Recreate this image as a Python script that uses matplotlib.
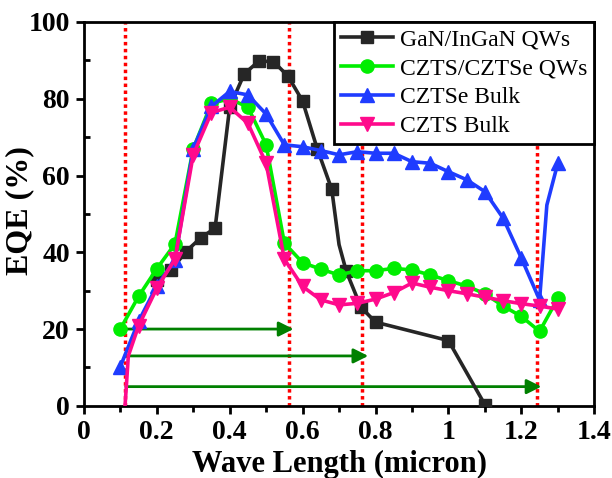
import matplotlib
matplotlib.use("Agg")
import matplotlib.pyplot as plt
from matplotlib.ticker import MultipleLocator, FuncFormatter

plt.rcParams["font.family"] = ["Liberation Serif", "DejaVu Serif"]

# ── data ─────────────────────────────────────────────────────────────────
gan_x = [0.20, 0.24, 0.28, 0.32, 0.36, 0.40, 0.44, 0.48, 0.52, 0.56, 0.60,
         0.64, 0.68, 0.70, 0.72, 0.76, 0.80, 1.00, 1.10]
gan_y = [32.8, 35.4, 40.2, 43.7, 46.3, 77.8, 86.5, 89.8, 89.7, 85.9, 79.4,
         67.0, 56.4, 42.0, 35.0, 25.7, 21.8, 17.0, 0.3]
gan_marks = [i for i in range(len(gan_x)) if i != 13]

qw_x = [0.10, 0.15, 0.20, 0.25, 0.30, 0.35, 0.40, 0.45, 0.50, 0.55, 0.60,
        0.65, 0.70, 0.75, 0.80, 0.85, 0.90, 0.95, 1.00, 1.05, 1.10, 1.15,
        1.20, 1.25, 1.30]
qw_y = [20.0, 28.5, 35.7, 42.2, 67.0, 78.8, 80.0, 77.8, 68.0, 42.4, 37.3,
        35.6, 34.1, 35.2, 35.2, 35.8, 35.4, 34.1, 32.6, 31.2, 29.2, 26.0,
        23.3, 19.4, 28.0]

se_x = [0.10, 0.15, 0.20, 0.25, 0.30, 0.35, 0.40, 0.45, 0.50, 0.55, 0.60,
        0.65, 0.70, 0.75, 0.80, 0.85, 0.90, 0.95, 1.00, 1.05, 1.10, 1.15,
        1.20, 1.25, 1.27, 1.30]
se_y = [10.2, 22.0, 31.2, 38.0, 67.0, 78.0, 81.9, 81.0, 76.0, 68.0, 67.5,
        66.5, 65.4, 66.2, 65.8, 65.8, 63.6, 63.2, 61.0, 58.9, 55.8, 48.9,
        38.5, 27.6, 52.3, 63.2]
se_marks = [i for i in range(len(se_x)) if i != 24]

s_x = [0.113, 0.122, 0.15, 0.20, 0.25, 0.30, 0.35, 0.40, 0.45, 0.50, 0.55,
       0.60, 0.65, 0.70, 0.75, 0.80, 0.85, 0.90, 0.95, 1.00, 1.05, 1.10,
       1.15, 1.20, 1.25, 1.30]
s_y = [0.0, 13.0, 20.8, 30.6, 38.2, 65.4, 76.4, 77.8, 73.6, 63.2, 38.2,
       31.1, 27.6, 26.3, 26.7, 27.8, 29.5, 32.0, 30.9, 30.0, 29.2, 28.3,
       27.4, 26.6, 26.0, 25.2]
s_marks = list(range(2, len(s_x)))

vlines_x = [0.113, 0.563, 0.763, 1.243]
arrow_start = 0.115
arrow_ends = [0.575, 0.78, 1.255]
arrow_y = [20, 13, 5]

# ── plot ────────────────────────────────────────────────────────────────
fig, ax = plt.subplots(figsize=(6.12, 4.78), dpi=100)
fig.subplots_adjust(left=0.137, right=0.971, top=0.954, bottom=0.151)

# band-edge markers
for xv in vlines_x:
    ax.axvline(xv, color="red", ls=(0, (1, 1)), lw=2.5, zorder=1)

for xe, ya in zip(arrow_ends, arrow_y):
    ax.annotate("", xy=(xe, ya), xytext=(arrow_start, ya),
                arrowprops=dict(arrowstyle="-|>", color="green", lw=2,
                                mutation_scale=22, shrinkA=0, shrinkB=0),
                zorder=2)

lw = 2.6
ax.plot(gan_x, gan_y, color="#262626", lw=lw, marker="s", ms=9,
        markevery=gan_marks, label="GaN/InGaN QWs", zorder=3)
ax.plot(qw_x, qw_y, color="#00ee00", lw=lw, marker="o", ms=9.5,
        label="CZTS/CZTSe QWs", zorder=4)
ax.plot(se_x, se_y, color="#1f3cff", lw=lw, marker="^", ms=10,
        markevery=se_marks, label="CZTSe Bulk", zorder=5)
ax.plot(s_x, s_y, color="#ff0a8c", lw=lw, marker="v", ms=10,
        markevery=s_marks, label="CZTS Bulk", zorder=6)

ax.set_xlim(0, 1.4)
ax.set_ylim(0, 100)
ax.xaxis.set_major_locator(MultipleLocator(0.2))
ax.xaxis.set_minor_locator(MultipleLocator(0.1))
ax.yaxis.set_major_locator(MultipleLocator(20))
ax.yaxis.set_minor_locator(MultipleLocator(10))
ax.xaxis.set_major_formatter(FuncFormatter(lambda v, p: f"{v:g}"))

ax.tick_params(axis="both", which="major", direction="out", length=6,
               width=2, labelsize=20, pad=4)
ax.tick_params(axis="x", which="minor", direction="out", length=4, width=2)
ax.tick_params(axis="y", which="minor", direction="in", length=4, width=2)
for lab in ax.get_xticklabels() + ax.get_yticklabels():
    lab.set_fontweight("bold")
for sp in ax.spines.values():
    sp.set_linewidth(2)

ax.set_xlabel("Wave Length (micron)", fontsize=22, fontweight="bold",
              labelpad=4)
ax.set_ylabel("EQE (%)", fontsize=23, fontweight="bold")
ax.yaxis.set_label_coords(-0.098, 0.51)

leg = ax.legend(loc="upper right", borderaxespad=0, fontsize=17,
                handlelength=2.2, fancybox=False, framealpha=1,
                edgecolor="black", borderpad=0.3, labelspacing=0.31,
                handletextpad=0.3)
leg.get_frame().set_linewidth(2)

fig.savefig("out.png", dpi=100)
